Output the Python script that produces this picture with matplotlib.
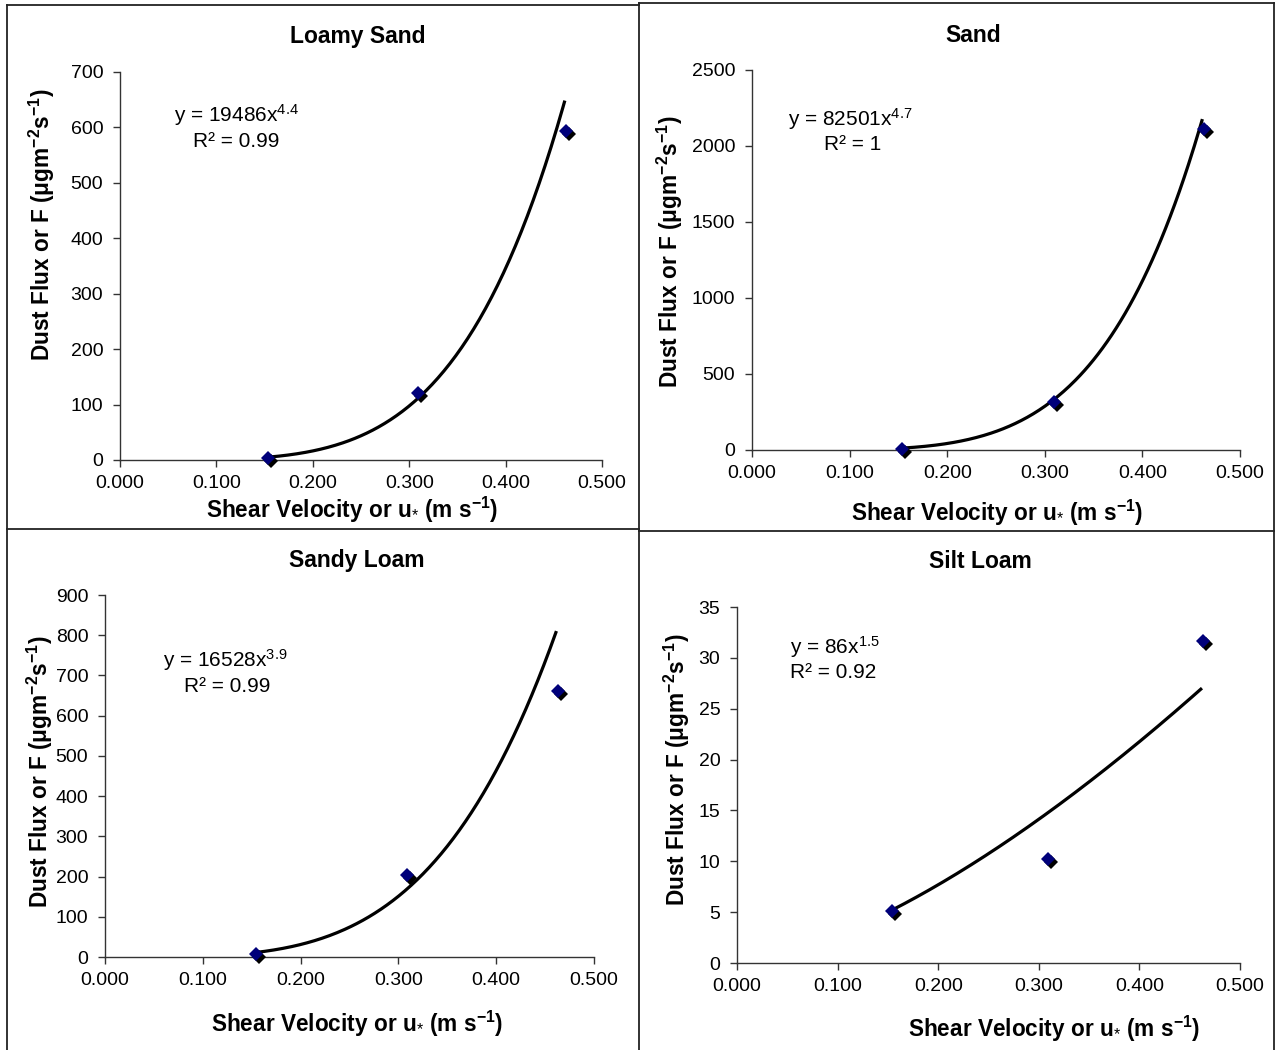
"""
Dust flux vs. shear velocity for four soil textures, with power-law trendlines.
"""

import matplotlib.pyplot as plt
import matplotlib.transforms as mtransforms
import numpy as np
from matplotlib.lines import Line2D

plt.rcParams.update({
    "font.family": ["Liberation Sans", "DejaVu Sans"],
    "mathtext.fontset": "custom",
    "mathtext.rm": "Liberation Sans",
    "mathtext.it": "Liberation Sans",
    "mathtext.bf": "Liberation Sans:bold",
    "font.size": 12,
})

# ---- data ----
titles = ["Loamy Sand", "Sand", "Sandy Loam", "Silt Loam"]
u_star = [0.154, 0.309, 0.463]
flux_loamy_sand = [3, 120, 593]
flux_sand = [9, 315, 2110]
flux_sandy_loam = [7, 205, 662]
flux_silt_loam = [5.1, 10.2, 31.7]
fluxes = [flux_loamy_sand, flux_sand, flux_sandy_loam, flux_silt_loam]

# power-law trendline y = a x^b, as printed on the chart
coef_a = [19486, 82501, 16528, 86]
coef_b = [4.4, 4.7, 3.9, 1.5]
r2_text = ["0.99", "1", "0.99", "0.92"]

y_max = [700, 2500, 900, 35]
y_step = [100, 500, 100, 5]

W, H = 1277, 1050
fig = plt.figure(figsize=(W / 100, H / 100), dpi=100)


def fx(px):
    return px / W


def fy(py):
    return 1 - py / H


# axes boxes in pixels: left, top, right, bottom
boxes = [
    (120, 72, 602, 460),
    (752, 70, 1240, 450),
    (105, 595, 594, 957),
    (737, 607, 1240, 963),
]
# equation anchor (left x, y of first line) in pixels
eq_pos = [(174, 115), (788, 119), (163, 660), (790, 647)]
r2_pos = [(193, 141), (824, 145), (184, 686), (790, 672)]
title_pos = [(358, 37), (973, 35), (357, 561), (980, 562)]
xlab_pos = [(352, 510), (997, 513), (357, 1024), (1054, 1029)]
ylab_pos = [(42, 225), (670, 252), (40, 772), (677, 770)]

xlabel = r"Shear Velocity or u$_{*}$ (m s$^{\mathbf{-1}}$)"
ylabel = r"Dust Flux or F ($\mathbf{\mu}$gm$^{\mathbf{-2}}$s$^{\mathbf{-1}}$)"

for i in range(4):
    l, t, r, b = boxes[i]
    ax = fig.add_axes([fx(l), fy(b), fx(r) - fx(l), fy(t) - fy(b)])
    for s in ["top", "right"]:
        ax.spines[s].set_visible(False)
    for s in ["left", "bottom"]:
        ax.spines[s].set_linewidth(1.0)
        ax.spines[s].set_color("#333333")
    ax.set_xlim(0, 0.5)
    ax.set_ylim(0, y_max[i])
    ax.set_xticks(np.arange(0, 0.51, 0.1))
    ax.set_xticklabels([f"{v:.3f}" for v in np.arange(0, 0.51, 0.1)])
    ax.set_yticks(np.arange(0, y_max[i] + 0.1, y_step[i]))
    ax.tick_params(labelsize=14, length=5, width=1.0, color="#333333")
    ax.tick_params(axis="y", pad=7)
    ax.tick_params(axis="x", pad=6)

    # trendline
    xs = np.linspace(u_star[0], u_star[-1] - 0.002, 200)
    ax.plot(xs, coef_a[i] * xs ** coef_b[i], color="black", lw=2.3,
            zorder=3, clip_on=False)

    # markers with a black drop shadow
    shadow = mtransforms.offset_copy(ax.transData, fig=fig, x=3, y=-3,
                                     units="dots")
    ax.plot(u_star, fluxes[i], "D", color="black", ms=7.5, mew=0,
            transform=shadow, zorder=4, clip_on=False)
    ax.plot(u_star, fluxes[i], "D", color="#00007a", ms=7.5, mew=0,
            zorder=5, clip_on=False)

    # equation text
    ex, ey = eq_pos[i]
    fig.text(fx(ex), fy(ey), f"y = {coef_a[i]}x$^{{{coef_b[i]}}}$",
             fontsize=15, va="center", ha="left")
    rx, ry = r2_pos[i]
    fig.text(fx(rx), fy(ry), f"R² = {r2_text[i]}", fontsize=15,
             va="center", ha="left")

    tx, ty = title_pos[i]
    fig.text(fx(tx), fy(ty), titles[i], fontsize=16.5, fontweight="bold",
             ha="center", va="center")
    xx, xy = xlab_pos[i]
    fig.text(fx(xx), fy(xy), xlabel, fontsize=16.3, fontweight="bold",
             ha="center", va="center")
    yx, yy = ylab_pos[i]
    fig.text(fx(yx), fy(yy), ylabel, fontsize=16.3, fontweight="bold",
             ha="center", va="center", rotation=90)

# panel frames
frame = [
    ((7, 639), (5, 5)), ((7, 7), (5, 1050)), ((7, 639), (529, 529)),
    ((639, 639), (3, 1050)), ((639, 1274), (3, 3)), ((1274, 1274), (3, 1050)),
    ((639, 1274), (531, 531)),
]
for xs_, ys_ in frame:
    fig.add_artist(Line2D([fx(v) for v in xs_], [fy(v) for v in ys_],
                          transform=fig.transFigure, color="#222222", lw=1.3))

fig.savefig("out.png", dpi=100)
